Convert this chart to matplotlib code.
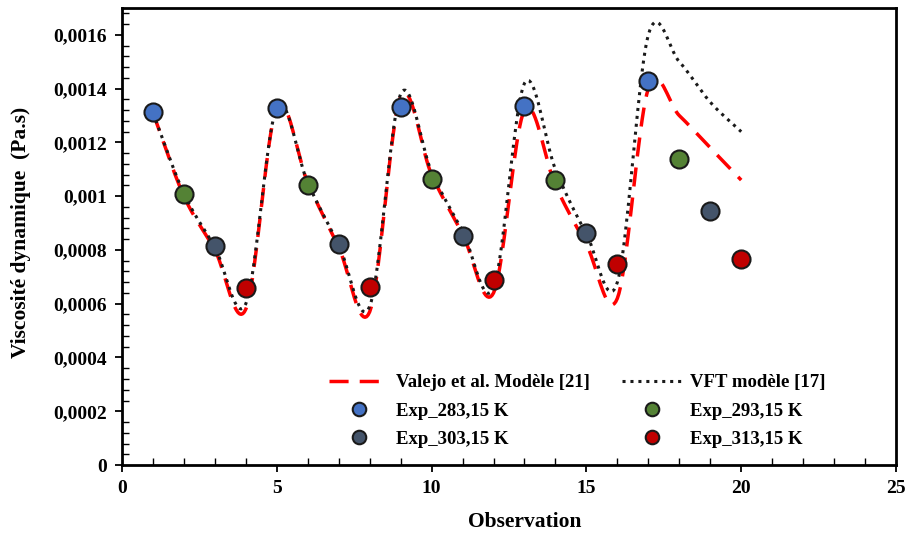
import matplotlib.pyplot as plt
import numpy as np
from matplotlib.ticker import MultipleLocator, FuncFormatter

plt.rcParams['font.family'] = ['Liberation Serif', 'DejaVu Serif']
plt.rcParams['font.weight'] = 'bold'

# observations and measured viscosities (Pa.s)
obs_283 = [1, 5, 9, 13, 17]
visc_283 = [0.001313, 0.001328, 0.001332, 0.001336, 0.001429]
obs_293 = [2, 6, 10, 14, 18]
visc_293 = [0.001007, 0.001041, 0.001063, 0.001060, 0.001138]
obs_303 = [3, 7, 11, 15, 19]
visc_303 = [0.000813, 0.000821, 0.000851, 0.000862, 0.000944]
obs_313 = [4, 8, 12, 16, 20]
visc_313 = [0.000660, 0.000664, 0.000687, 0.000746, 0.000765]

# model values at each observation
obs_model = list(range(1, 21))
valejo = [0.00131, 0.00100, 0.00080, 0.00058, 0.00133, 0.00105, 0.00081, 0.00057,
          0.00137, 0.00108, 0.00086, 0.00064, 0.00132, 0.00104, 0.00082, 0.00062,
          0.00140, 0.00130, 0.00118, 0.00106]
vft = [0.00131, 0.00101, 0.00081, 0.00060, 0.00133, 0.00105, 0.00082, 0.00059,
       0.00138, 0.00109, 0.00087, 0.00066, 0.00142, 0.00110, 0.00086, 0.00068,
       0.00160, 0.00150, 0.00135, 0.00124]


def smooth(x, y, n=20):
    # spreadsheet-style smoothed line (Catmull-Rom through the points)
    x = np.asarray(x, float)
    y = np.asarray(y, float)
    xs, ys = [], []
    for i in range(len(x) - 1):
        m0 = (y[i + 1] - y[i - 1]) / 2 if i > 0 else (y[i + 1] - y[i])
        m1 = (y[i + 2] - y[i]) / 2 if i + 2 < len(y) else (y[i + 1] - y[i])
        t = np.linspace(0, 1, n, endpoint=False)
        h00 = 2 * t**3 - 3 * t**2 + 1
        h10 = t**3 - 2 * t**2 + t
        h01 = -2 * t**3 + 3 * t**2
        h11 = t**3 - t**2
        xs.extend(x[i] + t * (x[i + 1] - x[i]))
        ys.extend(h00 * y[i] + h10 * m0 + h01 * y[i + 1] + h11 * m1)
    xs.append(x[-1])
    ys.append(y[-1])
    return xs, ys


fig = plt.figure(figsize=(9.09, 5.35), dpi=100)
ax = fig.add_axes([0.1342, 0.1308, 0.8515, 0.8542])

sx, sy = smooth(obs_model, valejo)
l1, = ax.plot(sx, sy, color='#FF0000', lw=2.5, ls=(0, (5.5, 3.2)), label='Valejo et al. Modèle [21]', zorder=2)
sx, sy = smooth(obs_model, vft)
l2, = ax.plot(sx, sy, color='#1a1a1a', lw=2.2, ls=(0, (1, 1.6)), label='VFT modèle [17]', zorder=3)

ms = 13
p1, = ax.plot(obs_283, visc_283, 'o', ms=ms, mfc='#4472C4', mec='#1a1a1a', mew=1.5, label='Exp_283,15 K', zorder=4)
p2, = ax.plot(obs_293, visc_293, 'o', ms=ms, mfc='#548235', mec='#1a1a1a', mew=1.5, label='Exp_293,15 K', zorder=4)
p3, = ax.plot(obs_303, visc_303, 'o', ms=ms, mfc='#44546A', mec='#1a1a1a', mew=1.5, label='Exp_303,15 K', zorder=4)
p4, = ax.plot(obs_313, visc_313, 'o', ms=ms, mfc='#C00000', mec='#1a1a1a', mew=1.5, label='Exp_313,15 K', zorder=4)

ax.set_xlim(0, 25)
ax.set_ylim(0, 0.0017)
ax.xaxis.set_major_locator(MultipleLocator(5))
ax.xaxis.set_minor_locator(MultipleLocator(1))
ax.yaxis.set_major_locator(MultipleLocator(0.0002))
ax.yaxis.set_minor_locator(MultipleLocator(0.00004))
ax.yaxis.set_major_formatter(FuncFormatter(lambda v, p: '{:g}'.format(round(v, 6)).replace('.', ',')))

ax.tick_params(which='major', direction='out', length=5, width=1.3, labelsize=14, pad=6)
ax.tick_params(which='minor', direction='in', length=5, width=1.0)
ax.tick_params(top=False, right=False, which='both')
for s in ax.spines.values():
    s.set_linewidth(2)

ax.set_xlabel('Observation', fontsize=15.5, fontweight='bold')
ax.xaxis.set_label_coords(0.52, -0.102)
ax.set_ylabel('Viscosité dynamique  (Pa.s)', fontsize=15.5, fontweight='bold')
ax.yaxis.set_label_coords(-0.117, 0.51)

ax.legend(handles=[l1, p1, p3, l2, p2, p4], ncol=2, frameon=False, fontsize=13.5,
          markerscale=0.75, handlelength=3.2, handletextpad=0.4, columnspacing=1.7,
          labelspacing=0.6, loc='center', bbox_to_anchor=(0.588, 0.118))

plt.savefig('out.png', dpi=100)
